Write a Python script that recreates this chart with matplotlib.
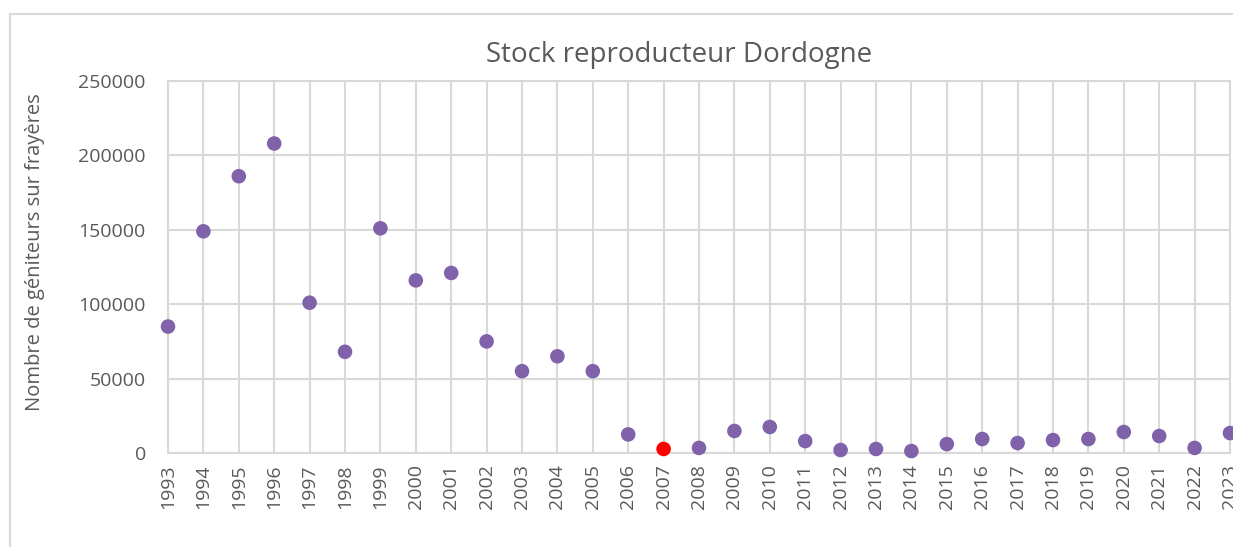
import matplotlib.pyplot as plt
from matplotlib.patches import Rectangle

plt.rcParams['font.family'] = ['Open Sans', 'DejaVu Sans']

# Data
years = list(range(1993, 2024))
geniteurs = [85000, 149000, 186000, 208000, 101000, 68000, 151000, 116000,
             121000, 75000, 55000, 65000, 55000, 12500, 2700, 3400,
             14800, 17500, 8000, 2000, 2700, 1300, 6000, 9400,
             6700, 8700, 9400, 14100, 11400, 3400, 13400]
highlight_year = 2007
y_ticks = [0, 50000, 100000, 150000, 200000, 250000]

grid_col = '#d9d9d9'
text_col = '#595959'
purple = '#7f62aa'

fig = plt.figure(figsize=(12.33, 5.47), dpi=100)

# chart border (Excel chart area, cropped on right and bottom)
fig.patches.append(Rectangle((10 / 1233, -0.1), 2, (547 - 14) / 547 + 0.1,
                             transform=fig.transFigure, fill=False,
                             edgecolor=grid_col, linewidth=1.5))

ax = fig.add_axes([168 / 1233, 94 / 547, 1062 / 1233, 372 / 547])

cols = ['red' if y == highlight_year else purple for y in years]
ax.scatter(years, geniteurs, s=110, c=cols, zorder=3, clip_on=False,
           linewidths=0)

ax.set_xlim(1993, 2023)
ax.set_ylim(0, 250000)
ax.set_xticks(years)
ax.set_xticklabels([str(y) for y in years], rotation=90)
ax.set_yticks(y_ticks)
ax.set_yticklabels([str(v) for v in y_ticks])
ax.tick_params(length=0, labelsize=14, colors=text_col, pad=8)
ax.tick_params(axis='y', pad=16)

ax.grid(True, color=grid_col, linewidth=1.5)
ax.set_axisbelow(True)
for s in ax.spines.values():
    s.set_color(grid_col)
    s.set_linewidth(1.5)

ax.set_ylabel('Nombre de géniteurs sur frayères', fontsize=14.5,
              color=text_col)
ax.yaxis.set_label_coords(-0.116, 0.54)

fig.text(679 / 1233, 1 - 55 / 547, 'Stock reproducteur Dordogne',
         fontsize=20, color=text_col, ha='center', va='center')

fig.savefig('out.png', dpi=100)
